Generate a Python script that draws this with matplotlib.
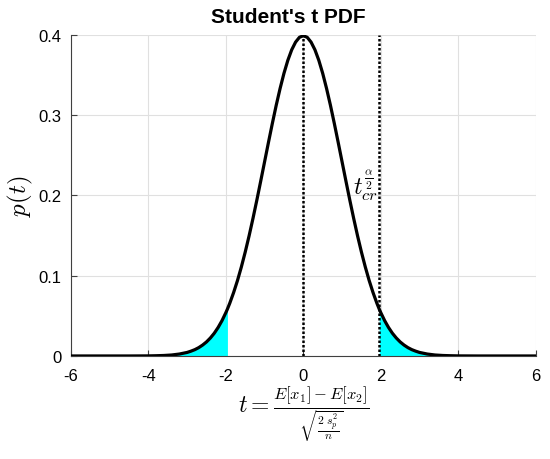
import matplotlib
matplotlib.use("Agg")
import matplotlib.pyplot as plt
import numpy as np

plt.rcParams['font.family'] = ['Liberation Sans', 'DejaVu Sans']
plt.rcParams['mathtext.fontset'] = 'cm'

# curve values
t_vals = [-6.0, -5.5, -5.0, -4.5, -4.0, -3.8, -3.6, -3.4, -3.2, -3.0,
          -2.9, -2.8, -2.7, -2.6, -2.5, -2.4, -2.3, -2.2, -2.1, -2.0, -1.96,
          -1.9, -1.8, -1.7, -1.6, -1.5, -1.4, -1.3, -1.2, -1.1, -1.0,
          -0.9, -0.8, -0.7, -0.6, -0.5, -0.4, -0.3, -0.2, -0.1, 0.0,
          0.1, 0.2, 0.3, 0.4, 0.5, 0.6, 0.7, 0.8, 0.9, 1.0,
          1.1, 1.2, 1.3, 1.4, 1.5, 1.6, 1.7, 1.8, 1.9, 1.96, 2.0,
          2.1, 2.2, 2.3, 2.4, 2.5, 2.6, 2.7, 2.8, 2.9, 3.0,
          3.2, 3.4, 3.6, 3.8, 4.0, 4.5, 5.0, 5.5, 6.0]
p_vals = [0.0, 0.0, 0.0, 0.0, 0.0001, 0.0003, 0.0006, 0.0012, 0.0024, 0.0044,
          0.0060, 0.0079, 0.0104, 0.0136, 0.0175, 0.0224, 0.0283, 0.0355, 0.0440, 0.0540, 0.0584,
          0.0656, 0.0790, 0.0940, 0.1109, 0.1295, 0.1497, 0.1714, 0.1942, 0.2179, 0.2420,
          0.2661, 0.2897, 0.3123, 0.3332, 0.3521, 0.3683, 0.3814, 0.3910, 0.3970, 0.3989,
          0.3970, 0.3910, 0.3814, 0.3683, 0.3521, 0.3332, 0.3123, 0.2897, 0.2661, 0.2420,
          0.2179, 0.1942, 0.1714, 0.1497, 0.1295, 0.1109, 0.0940, 0.0790, 0.0656, 0.0584, 0.0540,
          0.0440, 0.0355, 0.0283, 0.0224, 0.0175, 0.0136, 0.0104, 0.0079, 0.0060, 0.0044,
          0.0024, 0.0012, 0.0006, 0.0003, 0.0001, 0.0, 0.0, 0.0, 0.0]
t_crit = 1.96
x_ticks = [-6, -4, -2, 0, 2, 4, 6]
y_ticks = [0, 0.1, 0.2, 0.3, 0.4]
y_tick_labels = ['0', '0.1', '0.2', '0.3', '0.4']

t = np.array(t_vals)
p = np.array(p_vals)

fig = plt.figure(figsize=(5.5, 4.6), dpi=100)
ax = fig.add_axes([0.129, 0.224, 0.845, 0.698])

ax.fill_between(t, 0, p, where=t <= -t_crit, color='cyan', linewidth=0, zorder=2)
ax.fill_between(t, 0, p, where=t >= t_crit, color='cyan', linewidth=0, zorder=2)
ax.plot(t, p, color='black', linewidth=2.3, zorder=4, solid_joinstyle='round')
ax.plot([0, 0], [0, 0.4], color='black', linestyle=(0, (1, 0.8)), linewidth=1.8, zorder=3)
ax.plot([t_crit, t_crit], [0, 0.4], color='black', linestyle=(0, (1, 0.8)), linewidth=1.8, zorder=3)

ax.text(t_crit - 0.03, 0.213, r'$t_{cr}^{\frac{\alpha}{2}}$', fontsize=17,
        ha='right', va='center')

ax.set_xlim(-6, 6)
ax.set_ylim(0, 0.4)
ax.set_xticks(x_ticks)
ax.set_xticklabels([str(v) for v in x_ticks])
ax.set_yticks(y_ticks)
ax.set_yticklabels(y_tick_labels)
ax.grid(True, color='#e0e0e0', linewidth=0.8)
ax.set_axisbelow(True)
for s in ['top', 'right']:
    ax.spines[s].set_visible(False)
for s in ['left', 'bottom']:
    ax.spines[s].set_color('#404040')
    ax.spines[s].set_linewidth(0.8)
ax.tick_params(direction='in', labelsize=12, length=4, width=0.8, colors='#404040', pad=7)
ax.tick_params(axis='x', pad=9)
ax.tick_params(labelcolor='black')

ax.set_title("Student's t PDF", fontsize=15, fontweight='bold', pad=9, x=0.467)
ax.set_ylabel(r'$p(t)$', fontsize=18, labelpad=2)
ax.set_xlabel(r'$t = \frac{E[x_1] - E[x_2]}{\sqrt{\frac{2\ s_p^2}{n}}}$', fontsize=17, labelpad=0)

fig.savefig('out.png', dpi=100)
